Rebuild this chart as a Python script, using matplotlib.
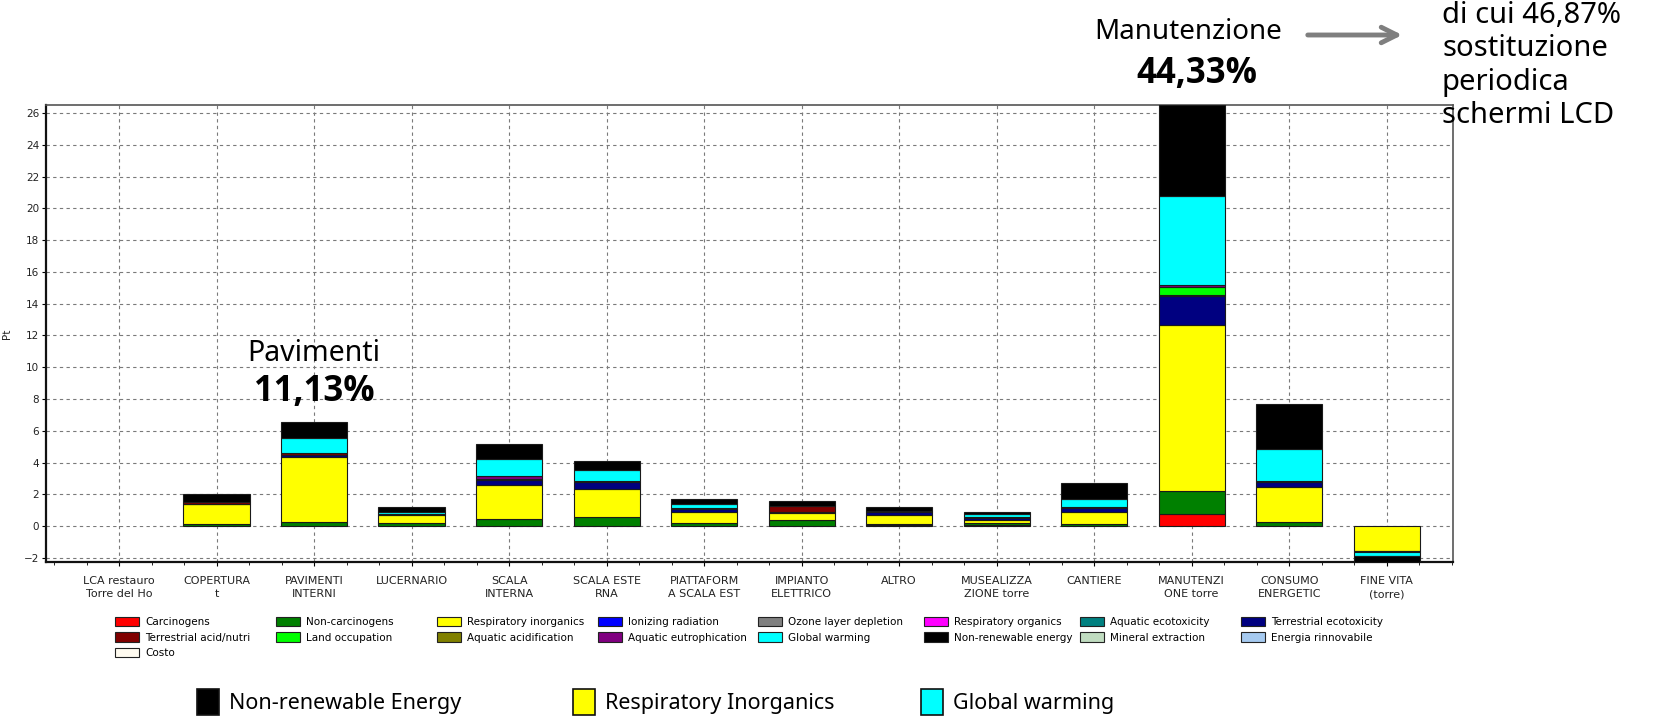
import matplotlib
matplotlib.use("Agg")
import matplotlib.pyplot as plt
from matplotlib import font_manager as fm
from matplotlib.patches import Patch, FancyArrowPatch
from matplotlib.ticker import MultipleLocator
import numpy as np

# ---------------- data ----------------
categories = ["LCA restauro\nTorre del Ho", "COPERTURA\nt", "PAVIMENTI\nINTERNI", "LUCERNARIO",
              "SCALA\nINTERNA", "SCALA ESTE\nRNA", "PIATTAFORM\nA SCALA EST", "IMPIANTO\nELETTRICO",
              "ALTRO", "MUSEALIZZA\nZIONE torre", "CANTIERE", "MANUTENZI\nONE torre",
              "CONSUMO\nENERGETIC", "FINE VITA\n(torre)"]

carcinogens             = [0, 0,    0,    0,    0,    0,    0,    0,    0.05, 0.05, 0,    0.80,  0,    0]
non_carcinogens         = [0, 0.12, 0.27, 0.18, 0.48, 0.55, 0.22, 0.38, 0.10, 0.14, 0.13, 1.40,  0.27, 0]
respiratory_inorganics  = [0, 1.26, 4.09, 0.52, 2.14, 1.80, 0.70, 0.45, 0.55, 0.21, 0.74, 10.45, 2.18, -1.55]
ionizing_radiation      = [0, 0,    0,    0,    0,    0,    0,    0,    0,    0,    0,    0,     0,    0]
ozone_layer_depletion   = [0, 0,    0,    0,    0,    0,    0,    0,    0,    0,    0,    0,     0,    0]
respiratory_organics    = [0, 0,    0,    0,    0,    0,    0,    0,    0,    0,    0,    0,     0,    0]
aquatic_ecotoxicity     = [0, 0,    0,    0,    0,    0,    0,    0,    0,    0,    0,    0,     0,    0]
terrestrial_ecotoxicity = [0, 0.02, 0.12, 0.10, 0.30, 0.45, 0.15, 0.05, 0.22, 0.10, 0.27, 1.85,  0.35, -0.05]
terrestrial_acid_nutri  = [0, 0.10, 0.12, 0,    0.05, 0.05, 0.05, 0.40, 0.03, 0.07, 0.05, 0.05,  0.05, 0]
land_occupation         = [0, 0,    0,    0,    0,    0,    0,    0,    0,    0,    0,    0.50,  0,    0]
aquatic_acidification   = [0, 0,    0,    0,    0,    0,    0,    0,    0,    0,    0,    0,     0,    0]
aquatic_eutrophication  = [0, 0,    0,    0,    0.20, 0,    0,    0,    0,    0,    0,    0.10,  0,    0]
global_warming          = [0, 0,    0.95, 0.10, 1.09, 0.70, 0.30, 0,    0,    0.21, 0.53, 5.60,  2.00, -0.30]
non_renewable_energy    = [0, 0.50, 1.01, 0.32, 0.94, 0.55, 0.31, 0.28, 0.25, 0.11, 1.00, 5.75,  2.85, -0.35]
mineral_extraction      = [0, 0,    0,    0,    0,    0,    0,    0,    0,    0,    0,    0,     0,    0]
energia_rinnovabile     = [0, 0,    0,    0,    0,    0,    0,    0,    0,    0,    0,    0,     0,    0]
costo                   = [0.06, 0, 0,    0,    0,    0,    0,    0,    0,    0,    0,    0,     0,    0]

series_names = ["Carcinogens", "Non-carcinogens", "Respiratory inorganics", "Ionizing radiation",
                "Ozone layer depletion", "Respiratory organics", "Aquatic ecotoxicity",
                "Terrestrial ecotoxicity", "Terrestrial acid/nutri", "Land occupation",
                "Aquatic acidification", "Aquatic eutrophication", "Global warming",
                "Non-renewable energy", "Mineral extraction", "Energia rinnovabile", "Costo"]
series_values = [carcinogens, non_carcinogens, respiratory_inorganics, ionizing_radiation,
                 ozone_layer_depletion, respiratory_organics, aquatic_ecotoxicity,
                 terrestrial_ecotoxicity, terrestrial_acid_nutri, land_occupation,
                 aquatic_acidification, aquatic_eutrophication, global_warming,
                 non_renewable_energy, mineral_extraction, energia_rinnovabile, costo]
series_colors = ["#FF0000", "#008000", "#FFFF00", "#0000FF", "#808080", "#FF00FF", "#008080",
                 "#000080", "#800000", "#00FF00", "#808000", "#800080", "#00FFFF", "#000000",
                 "#C0DCC0", "#A6CAF0", "#FFFFFF"]

big_legend_labels = ["Non-renewable Energy", "Respiratory Inorganics", "Global warming"]
big_legend_colors = ["#000000", "#FFFF00", "#00FFFF"]

# ---------------- fonts ----------------
names = {f.name for f in fm.fontManager.ttflist}


def has_bold(fam):
    for f in fm.fontManager.ttflist:
        if f.name == fam and f.style == "normal":
            w = f.weight
            if isinstance(w, str):
                w = fm.weight_dict.get(w, 400)
            if w >= 600:
                return True
    return False


bold_fam = next((f for f in ["Noto Sans", "Open Sans", "Lato", "Roboto", "DejaVu Sans"] if has_bold(f)),
                "DejaVu Sans")
reg_fam = ["Noto Sans", "DejaVu Sans"]
if "Liberation Sans Narrow" in names:
    narrow_fam, narrow_size = ["Liberation Sans Narrow", "DejaVu Sans"], 19.5
else:
    narrow_fam, narrow_size = ["Noto Sans", "DejaVu Sans"], 15.5

# ---------------- figure ----------------
W, H = 1654, 718
fig = plt.figure(figsize=(W / 100, H / 100), dpi=100)
fig.patch.set_facecolor("white")
ax = fig.add_axes([46 / W, 1 - 562 / H, (1453 - 46) / W, (562 - 105) / H])

x = np.arange(len(categories))
pos = np.zeros(len(categories))
neg = np.zeros(len(categories))
bw = 0.68
for name, vals, col in zip(series_names, series_values, series_colors):
    v = np.array(vals, dtype=float)
    bottom = np.where(v >= 0, pos, neg)
    m = v != 0
    if m.any():
        ec = "none" if name == "Costo" else "#1a1a1a"
        ax.bar(x[m], v[m], bw, bottom=bottom[m], color=col, edgecolor=ec, linewidth=0.8, zorder=3)
    pos = pos + np.where(v > 0, v, 0)
    neg = neg + np.where(v < 0, v, 0)

ax.set_xlim(-0.75, len(categories) - 1 + 0.68)
ax.set_ylim(-2.25, 26.5)
ax.set_xticks(x)
ax.set_xticklabels(categories, fontsize=8, color="#222222", linespacing=1.45)
ax.set_yticks(np.arange(-2, 27, 2))
ax.tick_params(axis="y", labelsize=7.5, labelcolor="#222222", length=3, width=0.8, pad=2)
ax.tick_params(axis="x", length=3, width=0.8, pad=7)
ax.xaxis.set_minor_locator(MultipleLocator(1 / 3))
ax.tick_params(axis="x", which="minor", length=2, width=0.6)
ax.set_ylabel("Pt", fontsize=7.5, color="#222222")
ax.yaxis.set_label_coords(-0.024, 0.5)

ax.set_axisbelow(True)
ax.grid(True, linestyle=(0, (3, 3)), color="#7a7a7a", linewidth=0.8)
for s in ["left", "bottom"]:
    ax.spines[s].set_linewidth(1.6)
    ax.spines[s].set_color("#111111")
for s in ["top", "right"]:
    ax.spines[s].set_linewidth(1.2)
    ax.spines[s].set_color("#555555")

# chart legend: 8 equal-width columns, read row by row
handles = [Patch(facecolor=c, edgecolor="#222222", linewidth=0.8) for c in series_colors]
handles[-1] = Patch(facecolor="#FFFBF0", edgecolor="#222222", linewidth=0.8)
ncol = 8
col_x = [115, 276, 437, 598, 758, 924, 1080, 1241]
for c in range(ncol):
    idx = list(range(c, len(series_names), ncol))
    fig.legend([handles[i] for i in idx], [series_names[i] for i in idx], ncol=1,
               loc="upper left", bbox_to_anchor=(col_x[c] / W, 1 - 617 / H), frameon=False,
               fontsize=7.5, handlelength=2.35, handleheight=1.0, handletextpad=0.55,
               labelspacing=0.5, borderpad=0, borderaxespad=0)

# bottom big legend: three separate entries
big_x = [197, 573, 921]
for hx, lab, colr in zip(big_x, big_legend_labels, big_legend_colors):
    fig.legend([Patch(facecolor=colr, edgecolor="#111111", linewidth=1.2)], [lab],
               loc="lower left", bbox_to_anchor=(hx / W, 0.004), frameon=False,
               prop={"family": narrow_fam, "size": narrow_size},
               handlelength=1.0, handleheight=1.5, handletextpad=0.5,
               borderpad=0, borderaxespad=0)

# annotations
ax.text(2, 10.85, "Pavimenti", ha="center", va="center", fontsize=20.5, family=reg_fam,
        clip_on=False, zorder=5)
ax.text(2, 8.45, "11,13%", ha="center", va="center", fontsize=25, family=[bold_fam, "DejaVu Sans"],
        fontweight="bold", clip_on=False, zorder=5)
fig.text(1188 / W, 1 - 32 / H, "Manutenzione", ha="center", va="center", fontsize=20, family=reg_fam)
fig.text(1197 / W, 1 - 74 / H, "44,33%", ha="center", va="center", fontsize=25,
         family=[bold_fam, "DejaVu Sans"], fontweight="bold")
fig.text(1442 / W, 1 - 1 / H, "di cui 46,87%\nsostituzione\nperiodica\nschermi LCD", ha="left",
         va="top", fontsize=21, family=reg_fam, linespacing=1.2)
fig.add_artist(FancyArrowPatch((1305 / W, 1 - 35 / H), (1405 / W, 1 - 35 / H),
                               transform=fig.transFigure, arrowstyle="->", mutation_scale=28,
                               linewidth=3.5, color="#7f7f7f"))

fig.savefig("out.png", dpi=100)
